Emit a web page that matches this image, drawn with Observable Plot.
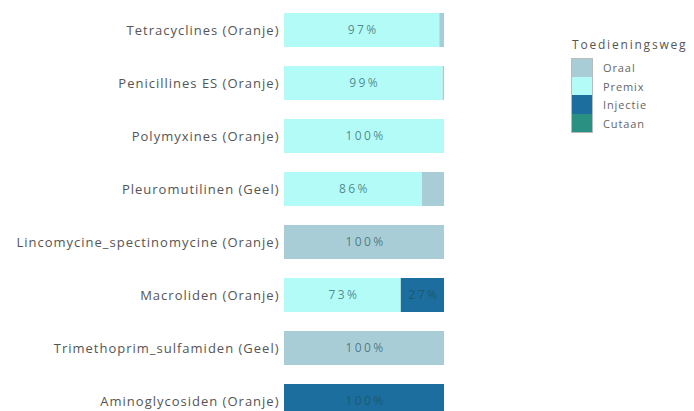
<!DOCTYPE html>
<html>
<head>
<meta charset="utf-8">
<script src="https://cdn.jsdelivr.net/npm/d3@7"></script>
<script src="https://cdn.jsdelivr.net/npm/@observablehq/plot@0.6"></script>
<style>
  html, body { margin: 0; padding: 0; background: #fff; overflow: hidden; width: 694px; height: 411px; }
  #wrap { position: relative; width: 694px; height: 411px; font-family: "Open Sans", sans-serif; }
  #legend { position: absolute; left: 571px; top: 36px; font-family: "Open Sans", sans-serif; }
  #legend .title { font-size: 12px; color: #555; letter-spacing: 1.8px; margin-left: 1px; height: 22px; line-height: 18px; }
  #legend .row { display: flex; align-items: center; height: 18.7px; }
  #legend .sw { width: 22px; height: 18.7px; box-sizing: border-box; border-left: 1px solid #bbb; border-right: 1px solid #bbb; }
  #legend .lab { margin-left: 10px; font-size: 11px; color: #666; letter-spacing: 0.9px; }
</style>
</head>
<body>
<div id="wrap"><div id="chart"></div><div id="legend"></div></div>
<script>
const categories = [
  "Tetracyclines (Oranje)",
  "Penicillines ES (Oranje)",
  "Polymyxines (Oranje)",
  "Pleuromutilinen (Geel)",
  "Lincomycine_spectinomycine (Oranje)",
  "Macroliden (Oranje)",
  "Trimethoprim_sulfamiden (Geel)",
  "Aminoglycosiden (Oranje)"
];
const routes = ["Oraal", "Premix", "Injectie", "Cutaan"];
const routeColors = ["#a9cdd6", "#b3fbf6", "#1b6e9d", "#2a9182"];
const stackOrder = ["Premix", "Oraal", "Injectie", "Cutaan"];
const oraal    = [3, 1, 0, 14, 100, 0, 100, 0];
const premix   = [97, 99, 100, 86, 0, 73, 0, 0];
const injectie = [0, 0, 0, 0, 0, 27, 0, 100];
const cutaan   = [0, 0, 0, 0, 0, 0, 0, 0];

const series = {Oraal: oraal, Premix: premix, Injectie: injectie, Cutaan: cutaan};
const data = [];
categories.forEach((c, i) => {
  for (const r of routes) {
    const v = series[r][i];
    if (v > 0) data.push({cat: c, route: r, value: v});
  }
});

const chart = Plot.plot({
  width: 694,
  height: 423,
  marginLeft: 284,
  marginRight: 250,
  marginTop: 7,
  marginBottom: 0,
  style: {fontFamily: "Open Sans, sans-serif", fontSize: "13px", color: "#555", background: "transparent"},
  x: {domain: [0, 100], axis: null},
  y: {domain: categories, paddingInner: 0.36, paddingOuter: 0.1, align: 0.5, label: null},
  color: {domain: routes, range: routeColors},
  marks: [
    Plot.barX(data, Plot.stackX({x: "value", y: "cat", fill: "route", order: stackOrder})),
    Plot.text(data, Plot.stackX({
      x: "value", y: "cat", z: "route", order: stackOrder,
      text: d => d.value >= 20 ? d.value + "%" : "",
      fill: "#1d5058", fillOpacity: 0.68,
      fontSize: 12, textAnchor: "middle", dx: 1
    })),
    Plot.axisY({tickSize: 0, tickPadding: 5, label: null, fontSize: 13})
  ]
});
document.getElementById("chart").appendChild(chart);
d3.select(chart).selectAll("text").filter(function(){ return this.closest("[aria-label='text']"); })
  .style("letter-spacing", "2.4px");
d3.select(chart).selectAll("[aria-label='y-axis tick label'] text").style("letter-spacing", "1px");

const lg = document.getElementById("legend");
const t = document.createElement("div");
t.className = "title"; t.textContent = "Toedieningsweg";
lg.appendChild(t);
routes.forEach((r, i) => {
  const row = document.createElement("div"); row.className = "row";
  const sw = document.createElement("div"); sw.className = "sw"; sw.style.background = routeColors[i];
  if (i === 0) sw.style.borderTop = "1px solid #bbb";
  if (i === routes.length - 1) sw.style.borderBottom = "1px solid #bbb";
  const lab = document.createElement("span"); lab.className = "lab"; lab.textContent = r;
  row.appendChild(sw); row.appendChild(lab); lg.appendChild(row);
});
</script>
</body>
</html>
